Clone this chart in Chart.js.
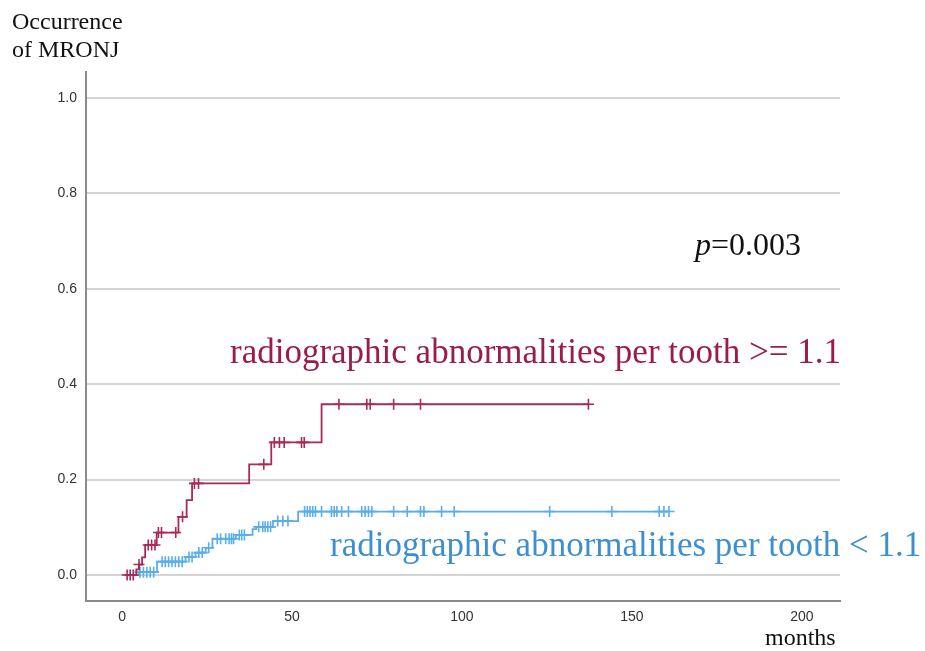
<!DOCTYPE html>
<html>
<head>
<meta charset="utf-8">
<script src="https://cdn.jsdelivr.net/npm/chart.js@4/dist/chart.umd.min.js"></script>
<style>
  body { margin: 0; background: #fff; }
  canvas { display: block; }
</style>
</head>
<body>
<canvas id="kmChart" width="925" height="651"></canvas>
<script>
// Cumulative incidence of MRONJ, months of follow-up
// group >= 1.1 : event times and cumulative incidence after each step
const highTimes = [1, 4.2, 5.0, 5.9, 6.8, 10.2, 16.6, 19.0, 20.6, 37.4, 43.9, 58.7, 137.2];
const highRisk = [0, 0.012, 0.022, 0.037, 0.063, 0.089, 0.122, 0.157, 0.192, 0.232, 0.278, 0.358, 0.358];
const highCensored = [1.5, 2.4, 3.3, 5.0, 7.7, 8.7, 9.7, 10.7, 11.6, 15.8, 17.8, 21.3, 22.5,
  41.7, 44.8, 46.3, 47.7, 52.8, 53.6, 63.8, 72, 73, 79.9, 87.8, 137.2];

// group < 1.1
const lowTimes = [2, 5.0, 10.3, 18.7, 21.6, 24.6, 26.6, 33.5, 38.4, 39.5, 44.4, 51.8, 161];
const lowRisk = [0, 0.006, 0.028, 0.038, 0.047, 0.057, 0.076, 0.084, 0.096, 0.101, 0.113, 0.133, 0.133];
const lowCensored = [5.3, 6.3, 7.3, 8.3, 9.3, 11.8, 12.7, 13.7, 14.7, 15.7, 16.7, 17.7, 19.7, 20.6,
  22.6, 23.6, 25.5, 28, 29, 30.5, 31.5, 32.2, 32.8, 34.5, 35.2, 36, 40.2, 41.4, 42.1, 42.9, 43.7,
  45.8, 47.3, 48.8, 53.7, 54.5, 55.3, 56.1, 56.9, 58.7, 61.6, 62.4, 63.2, 64.6, 66.6, 70.5, 71.5,
  72.5, 73.5, 79.9, 83.9, 87.8, 88.8, 94, 97.7, 125.8, 144.1, 158, 159.4, 160.9];

const xTicks = [0, 50, 100, 150, 200];
const yTicks = [0, 0.2, 0.4, 0.6, 0.8, 1.0];

const RED = "#a82a58";
const BLUE = "#5aaee6";

// value of the step curve at time t (last step at or before t)
function riskAt(times, risk, t) {
  let v = risk[0];
  for (let i = 0; i < times.length; i++) {
    if (times[i] <= t) v = risk[i];
  }
  return v;
}

function stepPoints(times, risk) {
  return times.map((t, i) => ({ x: t, y: risk[i] }));
}

function censorPoints(censored, times, risk) {
  return censored.map((t) => ({ x: t, y: riskAt(times, risk, t) }));
}

// texts placed on top of the chart
const textPlugin = {
  id: "texts",
  afterDraw(chart) {
    const ctx = chart.ctx;
    ctx.save();
    ctx.textBaseline = "alphabetic";
    ctx.textAlign = "left";

    ctx.fillStyle = "#111";
    ctx.font = "24px 'Liberation Serif'";
    ctx.fillText("Occurrence", 12, 29);
    ctx.fillText("of MRONJ", 12, 57);
    ctx.fillText("months", 765, 645);

    ctx.font = "italic 32px 'Liberation Serif'";
    ctx.fillText("p", 695, 255);
    const pw = ctx.measureText("p").width;
    ctx.font = "32px 'Liberation Serif'";
    ctx.fillText("=0.003", 695 + pw, 255);

    ctx.font = "35px 'Liberation Serif'";
    ctx.fillStyle = "#9b1b4b";
    ctx.fillText("radiographic abnormalities per tooth >= 1.1", 230, 363);
    ctx.fillStyle = "#3d8fd2";
    ctx.fillText("radiographic abnormalities per tooth < 1.1", 330, 556);
    ctx.restore();
  },
};

const ctx = document.getElementById("kmChart").getContext("2d");
new Chart(ctx, {
  type: "scatter",
  data: {
    datasets: [
      {
        label: "high line",
        data: stepPoints(highTimes, highRisk),
        showLine: true,
        stepped: true,
        borderColor: RED,
        borderWidth: 1.8,
        pointRadius: 0,
      },
      {
        label: "high censored",
        data: censorPoints(highCensored, highTimes, highRisk),
        pointStyle: "cross",
        pointRadius: 5.5,
        borderColor: RED,
        borderWidth: 1.6,
      },
      {
        label: "low line",
        data: stepPoints(lowTimes, lowRisk),
        showLine: true,
        stepped: true,
        borderColor: BLUE,
        borderWidth: 1.8,
        pointRadius: 0,
      },
      {
        label: "low censored",
        data: censorPoints(lowCensored, lowTimes, lowRisk),
        pointStyle: "cross",
        pointRadius: 5.5,
        borderColor: BLUE,
        borderWidth: 1.6,
      },
    ],
  },
  options: {
    responsive: false,
    animation: false,
    layout: { padding: { left: 0, top: 72, right: 85, bottom: 0 } },
    plugins: {
      legend: { display: false },
      tooltip: { enabled: false },
    },
    scales: {
      x: {
        type: "linear",
        min: -10.6,
        max: 211.2,
        afterBuildTicks: (scale) => {
          scale.ticks = xTicks.map((v) => ({ value: v }));
        },
        afterFit: (scale) => {
          scale.height = 50;
        },
        grid: { display: false, drawTicks: false },
        border: { display: true, color: "#8a8a8a", width: 2 },
        ticks: {
          padding: 8,
          color: "#333",
          font: { family: "'Liberation Sans'", size: 14 },
        },
      },
      y: {
        type: "linear",
        min: -0.0545,
        max: 1.0545,
        afterBuildTicks: (scale) => {
          scale.ticks = yTicks.map((v) => ({ value: v }));
        },
        afterFit: (scale) => {
          scale.width = 86;
        },
        grid: { color: "#d4d4d4", lineWidth: 2, drawTicks: false },
        border: { display: true, color: "#8a8a8a", width: 2 },
        ticks: {
          padding: 9,
          color: "#333",
          font: { family: "'Liberation Sans'", size: 14 },
          callback: (v) => v.toFixed(1),
        },
      },
    },
  },
  plugins: [textPlugin],
});
</script>
</body>
</html>
